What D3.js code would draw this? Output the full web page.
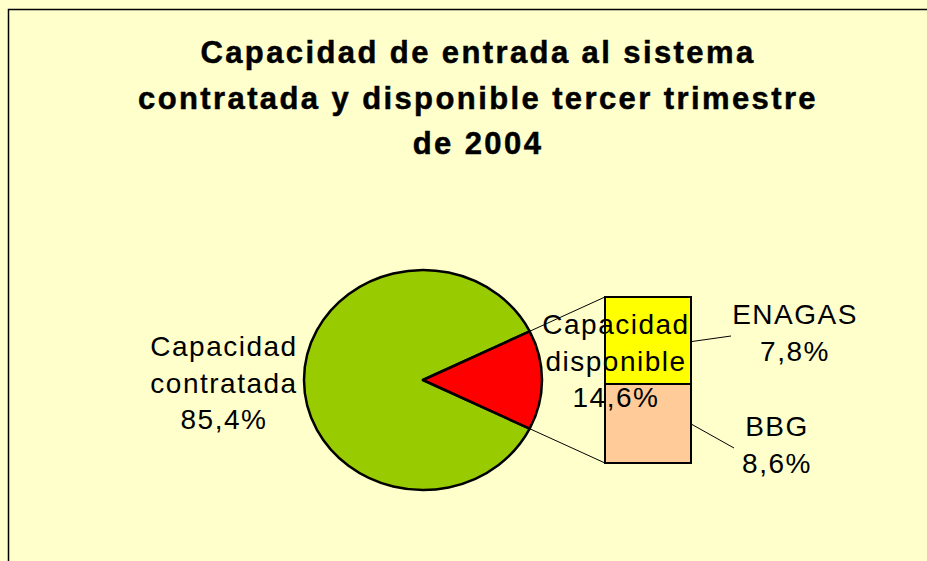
<!DOCTYPE html>
<html>
<head>
<meta charset="utf-8">
<script src="https://cdn.jsdelivr.net/npm/d3@7"></script>
<style>
  html, body { margin: 0; padding: 0; background: #FFFFCC; }
  svg { display: block; font-family: Arial, "Liberation Sans", sans-serif; }
</style>
</head>
<body>
<script>
// pie values (percent)
const pieNames = ["Capacidad contratada", "Capacidad disponible"];
const pieValues = [85.4, 14.6];
const pieLabels = [["Capacidad", "contratada", "85,4%"], ["Capacidad", "disponible", "14,6%"]];
const pieColors = ["#99CC00", "#FF0000"];

// breakdown of the available capacity (bar heights as drawn, labels as printed)
const barNames = ["BBG", "ENAGAS"];
const barValues = [6.95, 7.65];
const barLabels = [["BBG", "8,6%"], ["ENAGAS", "7,8%"]];
const barColors = ["#FFCC99", "#FFFF00"];

const titleLines = ["Capacidad de entrada al sistema", "contratada y disponible tercer trimestre", "de 2004"];

const width = 927;
const height = 561;

const svg = d3.select("body").append("svg")
    .attr("width", width)
    .attr("height", height);

svg.append("rect")
    .attr("width", width).attr("height", height)
    .attr("fill", "#FFFFCC");

// chart area border (runs off the right and bottom)
svg.append("rect")
    .attr("x", 8.5).attr("y", 9.5)
    .attr("width", 940).attr("height", 580)
    .attr("fill", "none")
    .attr("stroke", "#000")
    .attr("stroke-width", 1.5);

// title
svg.append("text")
    .attr("text-anchor", "middle")
    .attr("font-size", 31)
    .attr("font-weight", "bold")
    .attr("letter-spacing", 2.4)
    .attr("stroke", "#000")
    .attr("stroke-width", 0.5)
    .selectAll("tspan")
    .data(titleLines)
    .join("tspan")
    .attr("x", 478)
    .attr("y", (d, i) => 63 + i * 45.5)
    .text(d => d);

// pie (slightly wider than tall, like the original)
const cx = 423, cy = 380, rx = 119, ry = 110;
const sy = ry / rx;

const pie = d3.pie().sort(null)
    .startAngle(Math.PI / 2 + Math.PI * pieValues[1] / 100)
    .endAngle(Math.PI / 2 + Math.PI * pieValues[1] / 100 + 2 * Math.PI);
const arcs = pie(pieValues);
const arc = d3.arc().innerRadius(0).outerRadius(rx);

const pieG = svg.append("g")
    .attr("transform", `translate(${cx},${cy}) scale(1,${sy})`);

pieG.selectAll("path")
    .data(arcs)
    .join("path")
    .attr("d", arc)
    .attr("fill", (d, i) => pieColors[i])
    .attr("stroke", "#000")
    .attr("stroke-width", 2.5)
    .attr("stroke-linejoin", "round")
    .attr("vector-effect", "non-scaling-stroke");

// point on the pie edge at a d3 angle
const edge = a => [cx + rx * Math.sin(a), cy - ry * Math.cos(a)];
const sep = arcs[1];
const pTop = edge(sep.startAngle);
const pBot = edge(sep.endAngle);

// bar of the split slice
const barX = 605, barW = 86;
const yBar = d3.scaleLinear()
    .domain([0, d3.sum(barValues)])
    .range([463, 297]);

const stacked = [];
let acc = 0;
barValues.forEach((v, i) => {
    stacked.push({ i: i, y0: acc, y1: acc + v });
    acc += v;
});

// connector lines pie -> bar
svg.append("line")
    .attr("x1", pTop[0]).attr("y1", pTop[1])
    .attr("x2", barX).attr("y2", yBar(acc))
    .attr("stroke", "#000").attr("stroke-width", 1);
svg.append("line")
    .attr("x1", pBot[0]).attr("y1", pBot[1])
    .attr("x2", barX).attr("y2", yBar(0))
    .attr("stroke", "#000").attr("stroke-width", 1);

svg.selectAll("rect.seg")
    .data(stacked)
    .join("rect")
    .attr("class", "seg")
    .attr("x", barX)
    .attr("y", d => yBar(d.y1))
    .attr("width", barW)
    .attr("height", d => yBar(d.y0) - yBar(d.y1))
    .attr("fill", d => barColors[d.i])
    .attr("stroke", "#000")
    .attr("stroke-width", 2);

// leader lines for the bar labels
const barLabelPos = [
    { lx: 734, ly: 448, tx: 777, ty: 436 },
    { lx: 731, ly: 336, tx: 795, ty: 324 }
];
svg.selectAll("line.lead")
    .data(stacked)
    .join("line")
    .attr("class", "lead")
    .attr("x1", barX + barW + 1)
    .attr("y1", d => yBar((d.y0 + d.y1) / 2) + 1)
    .attr("x2", d => barLabelPos[d.i].lx)
    .attr("y2", d => barLabelPos[d.i].ly)
    .attr("stroke", "#000").attr("stroke-width", 1);

// labels
const lineGap = 36.6;
function multiLabel(lines, x, y) {
    svg.append("text")
        .attr("text-anchor", "middle")
        .attr("font-size", 28)
        .attr("letter-spacing", 1.5)
        .attr("fill", "#000")
        .selectAll("tspan")
        .data(lines)
        .join("tspan")
        .attr("x", x)
        .attr("y", (d, i) => y + i * lineGap)
        .text(d => d);
}

multiLabel(pieLabels[0], 224, 356);
multiLabel(pieLabels[1], 616, 334);
barLabels.forEach((lines, i) => multiLabel(lines, barLabelPos[i].tx, barLabelPos[i].ty));
</script>
</body>
</html>
